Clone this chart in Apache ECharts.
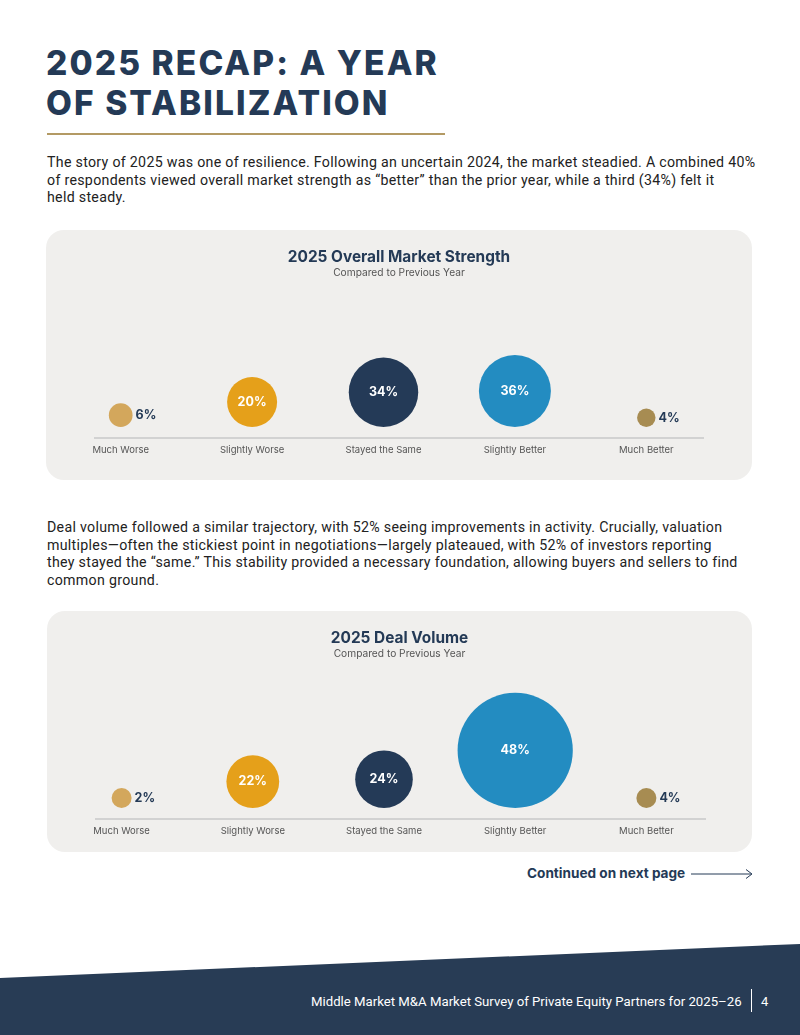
<!DOCTYPE html>
<html><head><meta charset="utf-8">
<script src="https://cdn.jsdelivr.net/npm/echarts@6/dist/echarts.min.js"></script>
<style>
body{margin:0;width:800px;height:1035px;position:relative;background:#fff;overflow:hidden;font-family:Roboto,sans-serif;}
h1{position:absolute;left:46px;top:43px;margin:0;font-family:Inter,sans-serif;font-weight:800;font-size:33.5px;line-height:40px;color:#243a56;letter-spacing:2.1px;}
.rule{position:absolute;left:47px;top:133px;width:398px;height:1.5px;background:#b39a64;}
p.txt{position:absolute;left:47px;margin:0;font-size:14.2px;line-height:17.6px;color:#222;white-space:nowrap;letter-spacing:0.3px;}
.card{position:absolute;background:#f0efed;border-radius:18px;}
.cont{position:absolute;left:527px;top:865px;font-family:Inter,sans-serif;font-weight:700;font-size:13.6px;color:#243a56;}
.foot{position:absolute;left:0;top:940px;}
.ftxt{position:absolute;left:311px;top:994px;font-size:13.2px;color:#fff;white-space:nowrap;}
.fsep{position:absolute;left:751px;top:989px;width:1px;height:23px;background:#fff;}
.fnum{position:absolute;left:761px;top:994px;font-size:13px;color:#fff;}
</style></head>
<body>
<h1>2025 RECAP: A YEAR<br>OF STABILIZATION</h1>
<div class="rule"></div>
<p class="txt" style="top:154px">The story of 2025 was one of resilience. Following an uncertain 2024, the market steadied. A combined 40%<br>of respondents viewed overall market strength as “better” than the prior year, while a third (34%) felt it<br>held steady.</p>
<div class="card" id="c1" style="left:46px;top:230px;width:706px;height:250px"></div>
<p class="txt" style="top:519px">Deal volume followed a similar trajectory, with 52% seeing improvements in activity. Crucially, valuation<br>multiples—often the stickiest point in negotiations—largely plateaued, with 52% of investors reporting<br>they stayed the “same.” This stability provided a necessary foundation, allowing buyers and sellers to find<br>common ground.</p>
<div class="card" id="c2" style="left:47px;top:611px;width:705px;height:241px"></div>
<div class="cont">Continued on next page</div>
<svg style="position:absolute;left:688px;top:867px" width="70" height="14"><line x1="3" y1="7" x2="63" y2="7" stroke="#243a56" stroke-width="1"/><polyline points="58,2.5 64,7 58,11.5" fill="none" stroke="#243a56" stroke-width="1"/></svg>
<svg class="foot" width="800" height="95"><polygon points="0,38 800,4 800,95 0,95" fill="#283c55"/></svg>
<div class="ftxt">Middle Market M&amp;A Market Survey of Private Equity Partners for 2025–26</div>
<div class="fsep"></div>
<div class="fnum">4</div>
<script>
const categories = ['Much Worse','Slightly Worse','Stayed the Same','Slightly Better','Much Better'];
const marketStrength = [6,20,34,36,4];
const dealVolume = [2,22,24,48,4];

const bubbleColors = ['#d3a75c','#e5a01a','#243a57','#238cc1','#a78c52'];
const FONT = 'Inter, sans-serif';

function build(el, title, values, sizeFn, bottom, lineY, lineX1, lineX2){
  const chart = echarts.init(document.getElementById(el), null, {renderer:'canvas'});
  chart.setOption({
    animation:false,
    title:{text:title, subtext:'Compared to Previous Year', left:'center', top:15, itemGap:3,
      textStyle:{fontFamily:FONT, fontWeight:700, fontSize:15.4, color:'#243a56'},
      subtextStyle:{fontFamily:FONT, fontSize:10.2, color:'#555'}},
    grid:{left:9, right:40, top:60, bottom:bottom},
    xAxis:{type:'category', data:categories, boundaryGap:true,
      axisLine:{show:false}, axisTick:{show:false},
      axisLabel:{margin:18, fontFamily:FONT, fontSize:9.5, color:'#555'}},
    yAxis:{type:'value', min:0, max:1, show:false},
    graphic:[{type:'line', shape:{x1:lineX1, y1:lineY, x2:lineX2, y2:lineY}, style:{stroke:'#c9c9c9', lineWidth:1.5}}],
    series:[{
      type:'scatter', clip:false,
      symbolOffset:[0,'-50%'],
      symbolSize:(v)=>sizeFn(v[2]),
      data: values.map((v,i)=>({
        value:[categories[i],0,v],
        itemStyle:{color:bubbleColors[i], opacity:1},
        label: v<10 ? {position:'right', distance:3, color:'#243a56', fontSize:12.5}
                    : {position:'inside', color:'#fff', fontSize:12.5}
      })),
      label:{show:true, fontFamily:FONT, fontWeight:700, formatter:(p)=>p.value[2]+'%'},
      emphasis:{disabled:true}
    }]
  });
}
build('c1','2025 Overall Market Strength', marketStrength,
  v=>Math.max(18, 72*Math.pow(v/36,0.62)), 53, 208, 48, 658);
build('c2','2025 Deal Volume', dealVolume,
  v=>Math.max(20, 2.4*v), 44, 208, 48, 659);
</script>
</body></html>
